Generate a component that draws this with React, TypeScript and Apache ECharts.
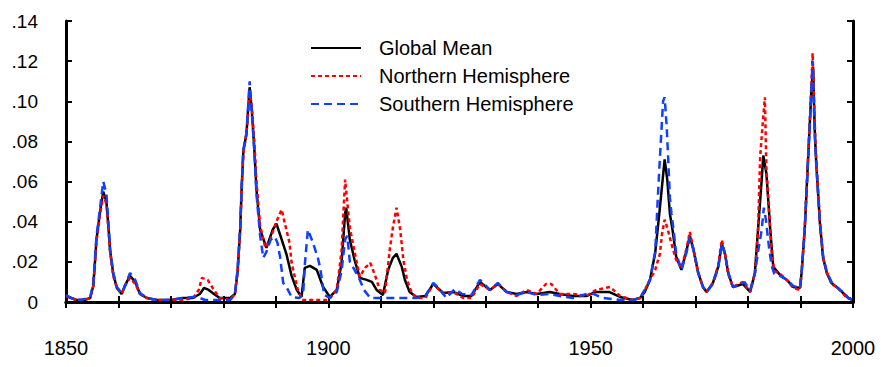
import React, { useEffect, useRef } from "react";
import * as echarts from "echarts";

const seriesNames = ["Global Mean", "Northern Hemisphere", "Southern Hemisphere"];
const yTickValues = [0, 0.02, 0.04, 0.06, 0.08, 0.1, 0.12, 0.14];
const xLabelYears = [1850, 1900, 1950, 2000];

const globalMean: [number, number][] = [
  [1850, 0.003], [1851, 0.002], [1852, 0.001], [1853.5, 0.001], [1854.6, 0.002], [1855.2, 0.008],
  [1855.5, 0.019], [1855.8, 0.031], [1856.5, 0.045], [1857.1, 0.055], [1857.7, 0.05], [1858.1, 0.037],
  [1858.4, 0.026], [1859.0, 0.014], [1859.7, 0.007], [1860.6, 0.004], [1861.2, 0.008], [1862.2, 0.013],
  [1863.2, 0.01], [1864.1, 0.004], [1865.4, 0.002], [1867.3, 0.001], [1870, 0.001], [1872.3, 0.002],
  [1874.2, 0.002], [1875.5, 0.004], [1876.3, 0.007], [1877.2, 0.006], [1878.2, 0.004], [1879.3, 0.002],
  [1881.3, 0.002], [1882.2, 0.004], [1882.7, 0.015], [1883.2, 0.036], [1883.5, 0.058], [1883.8, 0.075],
  [1884.4, 0.084], [1885.0, 0.107], [1885.4, 0.096], [1885.9, 0.076], [1886.3, 0.056], [1887.0, 0.036],
  [1888.2, 0.027], [1889.4, 0.036], [1890.1, 0.039], [1891.0, 0.032], [1892.0, 0.024], [1893.0, 0.013],
  [1894.0, 0.006], [1894.9, 0.0025], [1895.5, 0.017], [1896.5, 0.018], [1897.8, 0.016], [1899.0, 0.0075],
  [1900.3, 0.0025], [1901.6, 0.006], [1902.5, 0.019], [1903.2, 0.044], [1903.4, 0.047], [1904.1, 0.031],
  [1905.0, 0.021], [1906.0, 0.012], [1907.3, 0.011], [1908.3, 0.01], [1909.2, 0.006], [1910.4, 0.0035],
  [1911.4, 0.016], [1912.3, 0.022], [1913.0, 0.024], [1914.0, 0.0175], [1914.6, 0.011], [1915.5, 0.005],
  [1916.8, 0.0025], [1918.5, 0.003], [1920.0, 0.009], [1921.9, 0.0045], [1923.8, 0.005], [1925.7, 0.003],
  [1927.3, 0.003], [1928.9, 0.01], [1930.8, 0.006], [1932.3, 0.009], [1934.0, 0.005], [1935.9, 0.004],
  [1937.8, 0.005], [1939.7, 0.004], [1942.2, 0.005], [1944.1, 0.004], [1946.6, 0.003], [1949.2, 0.003],
  [1951.0, 0.005], [1953.5, 0.005], [1955.6, 0.0025], [1958.0, 0.001], [1959.4, 0.002], [1960.3, 0.005],
  [1961.3, 0.011], [1962.3, 0.0245], [1963.2, 0.047], [1964.1, 0.071], [1964.6, 0.061], [1965.1, 0.044],
  [1965.6, 0.036], [1966.3, 0.0225], [1967.3, 0.016], [1968.3, 0.026], [1968.9, 0.033], [1969.6, 0.026],
  [1970.5, 0.0145], [1971.4, 0.0075], [1972.1, 0.005], [1973.3, 0.0095], [1974.3, 0.0175], [1975.0, 0.029],
  [1975.6, 0.024], [1976.2, 0.0145], [1977.1, 0.0075], [1979.0, 0.009], [1980.4, 0.005], [1981.3, 0.0145],
  [1981.9, 0.036], [1982.6, 0.061], [1982.9, 0.073], [1983.5, 0.064], [1984.2, 0.037], [1984.8, 0.0175],
  [1986.1, 0.0135], [1987.4, 0.011], [1988.6, 0.0075], [1989.9, 0.007], [1990.2, 0.0145], [1990.8, 0.036],
  [1991.4, 0.069], [1992.1, 0.107], [1992.4, 0.117], [1992.7, 0.086], [1993.0, 0.069], [1993.4, 0.052],
  [1993.7, 0.039], [1994.3, 0.022], [1995.0, 0.0145], [1995.9, 0.0095], [1997.1, 0.007], [1998.5, 0.0035],
  [1999.1, 0.002], [2000, 0.001],
];

const northernHemisphere: [number, number][] = [
  [1850, 0.003], [1851, 0.002], [1852, 0.001], [1853.5, 0.001], [1854.6, 0.002], [1855.2, 0.008],
  [1855.5, 0.019], [1855.8, 0.03], [1856.5, 0.044], [1857.1, 0.053], [1857.7, 0.049], [1858.1, 0.036],
  [1858.4, 0.025], [1859.0, 0.013], [1859.7, 0.007], [1860.6, 0.004], [1861.2, 0.008], [1862.2, 0.012],
  [1863.2, 0.009], [1864.1, 0.004], [1865.4, 0.002], [1867.3, 0.001], [1870, 0.001], [1872.3, 0.001],
  [1874.2, 0.002], [1875.3, 0.006], [1875.9, 0.012], [1877.0, 0.011], [1878.2, 0.006], [1879.3, 0.002],
  [1881.3, 0.001], [1882.2, 0.004], [1882.7, 0.015], [1883.2, 0.036], [1883.5, 0.057], [1883.8, 0.074],
  [1884.4, 0.084], [1885.0, 0.104], [1885.4, 0.098], [1885.9, 0.08], [1886.3, 0.06], [1887.0, 0.038],
  [1888.0, 0.027], [1888.9, 0.031], [1890.1, 0.04], [1891.1, 0.046], [1892.0, 0.036], [1892.6, 0.0295],
  [1893.0, 0.0195], [1893.6, 0.0125], [1894.2, 0.006], [1895, 0.001], [1900, 0.001], [1901.6, 0.006],
  [1902.5, 0.025], [1903.2, 0.061], [1903.6, 0.05], [1904.1, 0.037], [1905.0, 0.025], [1906.0, 0.0125],
  [1907.0, 0.017], [1908.0, 0.0195], [1909.0, 0.0125], [1909.8, 0.006], [1910.8, 0.0045], [1911.7, 0.026],
  [1912.3, 0.037], [1913.0, 0.047], [1913.7, 0.036], [1914.3, 0.021], [1915.0, 0.011], [1915.9, 0.0045],
  [1916.8, 0.002], [1918.5, 0.002], [1920.0, 0.009], [1921.9, 0.004], [1923.8, 0.005], [1925.7, 0.002],
  [1927.3, 0.002], [1928.9, 0.009], [1930.8, 0.006], [1932.3, 0.009], [1934.0, 0.005], [1935.9, 0.003],
  [1937.8, 0.006], [1939.7, 0.004], [1941.5, 0.009], [1942.5, 0.009], [1944.1, 0.004], [1946.6, 0.004],
  [1949.2, 0.003], [1951.0, 0.006], [1953.7, 0.0075], [1955.6, 0.003], [1958.0, 0.001], [1959.4, 0.002],
  [1960.3, 0.006], [1961.3, 0.011], [1962.3, 0.016], [1963.2, 0.024], [1963.6, 0.034], [1964.1, 0.041],
  [1964.6, 0.037], [1965.1, 0.032], [1965.6, 0.027], [1966.3, 0.021], [1967.3, 0.017], [1968.3, 0.027],
  [1968.9, 0.035], [1969.6, 0.026], [1970.5, 0.0145], [1971.4, 0.0075], [1972.1, 0.005], [1973.3, 0.0095],
  [1974.3, 0.018], [1975.0, 0.031], [1975.6, 0.024], [1976.2, 0.014], [1977.1, 0.0075], [1979.0, 0.01],
  [1980.4, 0.005], [1981.3, 0.0145], [1981.9, 0.036], [1982.3, 0.072], [1982.7, 0.086], [1983.2, 0.102],
  [1983.5, 0.066], [1984.0, 0.046], [1984.4, 0.027], [1985.0, 0.0155], [1986.1, 0.014], [1987.4, 0.011],
  [1988.6, 0.007], [1989.9, 0.006], [1990.2, 0.0145], [1990.8, 0.037], [1991.4, 0.07], [1992.1, 0.11],
  [1992.3, 0.124], [1992.7, 0.09], [1993.0, 0.07], [1993.4, 0.053], [1993.7, 0.04], [1994.3, 0.022],
  [1995.0, 0.015], [1995.9, 0.009], [1997.1, 0.007], [1998.5, 0.003], [1999.1, 0.002], [2000, 0.001],
];

const southernHemisphere: [number, number][] = [
  [1850, 0.0035], [1851, 0.002], [1852.7, 0.001], [1854.6, 0.002], [1855.2, 0.0095], [1855.5, 0.021],
  [1855.8, 0.0325], [1856.5, 0.047], [1857.1, 0.06], [1857.7, 0.054], [1858.1, 0.039], [1858.4, 0.026],
  [1859.0, 0.0145], [1859.7, 0.0075], [1860.6, 0.0045], [1861.2, 0.0075], [1862.2, 0.0145], [1863.2, 0.011],
  [1864.1, 0.0045], [1865.4, 0.002], [1867.3, 0.001], [1870, 0.001], [1872.3, 0.002], [1874.2, 0.0025],
  [1875.5, 0.002], [1876.5, 0.001], [1879, 0.001], [1881.3, 0.001], [1882.2, 0.004], [1882.7, 0.016],
  [1883.2, 0.037], [1883.5, 0.059], [1883.8, 0.076], [1884.4, 0.084], [1885.0, 0.11], [1885.4, 0.095],
  [1885.9, 0.075], [1886.3, 0.054], [1887.0, 0.033], [1887.6, 0.022], [1888.2, 0.025], [1889.0, 0.031],
  [1889.8, 0.0325], [1890.3, 0.0295], [1890.8, 0.0225], [1891.4, 0.0095], [1892.0, 0.0075], [1893.0, 0.0025],
  [1894.5, 0.002], [1895.2, 0.004], [1895.5, 0.018], [1896.1, 0.036], [1897.0, 0.03], [1898.0, 0.022],
  [1898.4, 0.0175], [1898.8, 0.011], [1899.2, 0.0035], [1900.3, 0.002], [1901.6, 0.005], [1902.5, 0.015],
  [1903.2, 0.031], [1903.6, 0.033], [1904.1, 0.02], [1905.0, 0.016], [1906.0, 0.011], [1906.8, 0.006],
  [1908.0, 0.002], [1912, 0.002], [1914, 0.002], [1916.8, 0.002], [1918.5, 0.003], [1920.0, 0.0095],
  [1921, 0.007], [1922.5, 0.002], [1924.1, 0.0065], [1925.5, 0.004], [1927.3, 0.0035], [1928.9, 0.011],
  [1930.8, 0.006], [1932.3, 0.0095], [1934.0, 0.005], [1935.9, 0.0035], [1937.8, 0.005], [1939.7, 0.0035],
  [1942.2, 0.004], [1944.1, 0.003], [1946.6, 0.002], [1949.2, 0.004], [1950.5, 0.004], [1952.3, 0.002],
  [1955.6, 0.001], [1958.0, 0.001], [1959.4, 0.002], [1960.3, 0.006], [1961.3, 0.011], [1962.3, 0.025],
  [1962.8, 0.052], [1963.2, 0.072], [1963.5, 0.086], [1963.8, 0.1], [1964.1, 0.102], [1964.5, 0.087],
  [1964.8, 0.07], [1965.1, 0.052], [1965.4, 0.044], [1965.8, 0.036], [1966.3, 0.024], [1967.3, 0.016],
  [1968.3, 0.025], [1968.9, 0.032], [1969.6, 0.026], [1970.5, 0.0145], [1971.4, 0.0075], [1972.1, 0.005],
  [1973.3, 0.009], [1974.3, 0.017], [1975.0, 0.029], [1975.6, 0.024], [1976.2, 0.015], [1977.1, 0.0075],
  [1978.5, 0.0085], [1979.3, 0.01], [1980.4, 0.006], [1981.3, 0.014], [1981.9, 0.025], [1982.6, 0.036],
  [1983.0, 0.047], [1983.4, 0.041], [1984.0, 0.027], [1984.5, 0.018], [1985.0, 0.014], [1986.1, 0.013],
  [1987.4, 0.011], [1988.6, 0.008], [1989.9, 0.007], [1990.2, 0.0145], [1990.8, 0.036], [1991.4, 0.069],
  [1992.1, 0.107], [1992.3, 0.12], [1992.7, 0.084], [1993.0, 0.068], [1993.4, 0.052], [1993.7, 0.04],
  [1994.3, 0.023], [1995.0, 0.015], [1995.9, 0.01], [1997.1, 0.007], [1998.5, 0.004], [1999.1, 0.002],
  [2000, 0.001],
];

const FONT = "'Liberation Sans', Arial, sans-serif";

export default function App() {
  const ref = useRef<HTMLDivElement>(null);
  useEffect(() => {
    if (!ref.current) return;
    const chart = echarts.init(ref.current, undefined, { renderer: "svg" });
    const axisLine = { show: true, lineStyle: { color: "#000", width: 3 } };
    const tick = { show: true, inside: true, length: 6, lineStyle: { color: "#000", width: 2 } };
    const yMin = yTickValues[0];
    const yMax = yTickValues[yTickValues.length - 1];
    const xMin = xLabelYears[0];
    const xMax = xLabelYears[xLabelYears.length - 1];
    chart.setOption({
      animation: false,
      backgroundColor: "#ffffff",
      grid: { left: 66, right: 28, top: 21, bottom: 65, containLabel: false },
      legend: {
        orient: "vertical",
        left: 310,
        top: 38,
        padding: 0,
        itemWidth: 50,
        itemHeight: 14,
        itemGap: 8,
        itemStyle: { opacity: 0 },
        textStyle: { fontSize: 20, color: "#000", fontFamily: FONT, padding: [0, 0, 0, 13] },
        data: seriesNames,
      },
      xAxis: [
        {
          type: "value",
          min: xMin,
          max: xMax,
          interval: 10,
          axisLine,
          axisTick: tick,
          splitLine: { show: false },
          axisLabel: {
            margin: 36,
            fontSize: 20,
            color: "#000",
            fontFamily: FONT,
            formatter: (v: number) => (xLabelYears.includes(v) ? String(v) : ""),
          },
        },
        {
          type: "value",
          position: "top",
          min: xMin,
          max: xMax,
          interval: 10,
          axisLine,
          axisTick: tick,
          splitLine: { show: false },
          axisLabel: { show: false },
        },
      ],
      yAxis: [
        {
          type: "value",
          min: yMin,
          max: yMax,
          interval: 0.02,
          axisLine,
          axisTick: tick,
          splitLine: { show: false },
          axisLabel: {
            margin: 28,
            fontSize: 19,
            color: "#000",
            fontFamily: FONT,
            formatter: (v: number) =>
              v === 0 ? "0" : "." + String(Math.round(v * 100)).padStart(2, "0"),
          },
        },
        {
          type: "value",
          position: "right",
          min: yMin,
          max: yMax,
          interval: 0.02,
          axisLine,
          axisTick: tick,
          splitLine: { show: false },
          axisLabel: { show: false },
        },
      ],
      series: [
        {
          name: seriesNames[0],
          type: "line",
          data: globalMean,
          showSymbol: false,
          symbol: "none",
          lineStyle: { color: "#000000", width: 2.5, type: "solid" },
          itemStyle: { color: "#000000" },
        },
        {
          name: seriesNames[1],
          type: "line",
          data: northernHemisphere,
          showSymbol: false,
          symbol: "none",
          lineStyle: { color: "#ff0000", width: 2.5, type: [4, 3] },
          itemStyle: { color: "#ff0000" },
        },
        {
          name: seriesNames[2],
          type: "line",
          data: southernHemisphere,
          showSymbol: false,
          symbol: "none",
          lineStyle: { color: "#1040ff", width: 2.5, type: [8, 5] },
          itemStyle: { color: "#1040ff" },
        },
      ],
    });
    return () => chart.dispose();
  }, []);
  return <div ref={ref} style={{ width: 881, height: 367, position: "absolute", left: 0, top: 0 }} />;
}
